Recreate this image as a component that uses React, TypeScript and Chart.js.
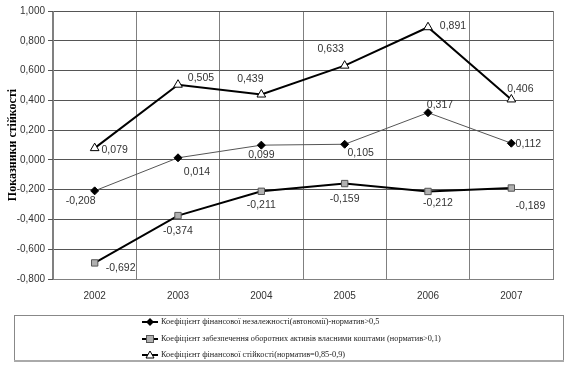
import React, { useEffect, useRef } from "react";
import { Chart, registerables } from "chart.js";

Chart.register(...registerables);

const years = ["2002", "2003", "2004", "2005", "2006", "2007"];
const autonomy = [-0.208, 0.014, 0.099, 0.105, 0.317, 0.112];
const currentAssets = [-0.692, -0.374, -0.211, -0.159, -0.212, -0.189];
const stability = [0.079, 0.505, 0.439, 0.633, 0.891, 0.406];
const seriesNames = [
  "Коефіцієнт фінансової незалежності(автономії)-норматив>0,5",
  "Коефіцієнт забезпечення оборотних активів власними коштами (норматив>0,1)",
  "Коефіцієнт фінансової стійкості(норматив=0,85-0,9)",
];
const yTitle = "Показники стійкості";

// label offsets [dx, dy] relative to each point (layout only)
const labelOffsets = [
  [[-14, 10], [19, 14], [0, 10], [16, 9], [12, -8], [17, 1]],
  [[26, 5], [0, 16], [0, 14], [0, 16], [10, 12], [19, 18]],
  [[20, 2], [23, -7], [-11, -15], [-14, -17], [25, -1], [9, -10]],
];

const fmt = (v: number) => (Math.abs(v) < 1e-9 ? 0 : v).toFixed(3).replace(".", ",");

const TICK_FONT = "'Liberation Sans Narrow', 'Arial Narrow', 'Liberation Sans', sans-serif";

export default function App() {
  const ref = useRef<HTMLCanvasElement | null>(null);
  useEffect(() => {
    document.body.style.margin = "0";
    const canvas = ref.current!;
    const labelsPlugin = {
      id: "valueLabels",
      afterDatasetsDraw(chart: any) {
        const ctx = chart.ctx;
        ctx.save();
        ctx.font = `10.5px ${TICK_FONT}`;
        ctx.fillStyle = "#333";
        ctx.textAlign = "center";
        ctx.textBaseline = "middle";
        chart.data.datasets.forEach((ds: any, i: number) => {
          const meta = chart.getDatasetMeta(i);
          meta.data.forEach((pt: any, j: number) => {
            const off = labelOffsets[i][j];
            ctx.fillText(fmt(ds.data[j]), pt.x + off[0], pt.y + off[1]);
          });
        });
        ctx.restore();
      },
    };
    const extrasPlugin = {
      id: "extras",
      afterDraw(chart: any) {
        const ctx = chart.ctx;
        const area = chart.chartArea;
        ctx.save();
        // y title
        ctx.translate(13, (area.top + area.bottom) / 2);
        ctx.rotate(-Math.PI / 2);
        ctx.font = "bold 12px 'Liberation Serif', 'Times New Roman', serif";
        ctx.fillStyle = "#000";
        ctx.textAlign = "center";
        ctx.textBaseline = "middle";
        ctx.fillText(yTitle, 0, 0);
        ctx.restore();

        // legend box
        ctx.save();
        ctx.strokeStyle = "#888";
        ctx.lineWidth = 1;
        ctx.strokeRect(14.5, 315.5, 549, 45);
        ctx.strokeStyle = "#aaa";
        ctx.lineWidth = 2;
        ctx.beginPath();
        ctx.moveTo(14, 361);
        ctx.lineTo(564, 361);
        ctx.stroke();
        const rows = [322, 339, 355];
        chart.data.datasets.forEach((ds: any, i: number) => {
          const y = rows[i];
          ctx.strokeStyle = "#000";
          ctx.lineWidth = 2;
          ctx.beginPath();
          ctx.moveTo(142, y);
          ctx.lineTo(158, y);
          ctx.stroke();
          const cx = 150;
          ctx.lineWidth = 1;
          if (i === 0) {
            ctx.fillStyle = "#000";
            ctx.beginPath();
            ctx.moveTo(cx, y - 4);
            ctx.lineTo(cx + 4, y);
            ctx.lineTo(cx, y + 4);
            ctx.lineTo(cx - 4, y);
            ctx.closePath();
            ctx.fill();
          } else if (i === 1) {
            ctx.fillStyle = "#b0b0b0";
            ctx.strokeStyle = "#555";
            ctx.fillRect(cx - 3.5, y - 3.5, 7, 7);
            ctx.strokeRect(cx - 3.5, y - 3.5, 7, 7);
          } else {
            ctx.fillStyle = "#fff";
            ctx.strokeStyle = "#000";
            ctx.beginPath();
            ctx.moveTo(cx, y - 4);
            ctx.lineTo(cx + 4, y + 3);
            ctx.lineTo(cx - 4, y + 3);
            ctx.closePath();
            ctx.fill();
            ctx.stroke();
          }
          ctx.save();
          ctx.translate(161, y);
          ctx.scale(0.92, 1);
          ctx.fillStyle = "#222";
          ctx.font = "9px 'Liberation Serif', 'Times New Roman', serif";
          ctx.textAlign = "left";
          ctx.textBaseline = "middle";
          ctx.fillText(seriesNames[i], 0, 0);
          ctx.restore();
        });
        ctx.restore();
      },
    };

    const chart = new Chart(canvas, {
      type: "line",
      data: {
        labels: years,
        datasets: [
          {
            label: seriesNames[0],
            data: autonomy,
            borderColor: "#555",
            borderWidth: 1,
            pointStyle: "rectRot",
            pointRadius: 4,
            pointBackgroundColor: "#000",
            pointBorderColor: "#000",
            pointBorderWidth: 1,
          },
          {
            label: seriesNames[1],
            data: currentAssets,
            borderColor: "#000",
            borderWidth: 2,
            pointStyle: "rect",
            pointRadius: 4.5,
            pointBackgroundColor: "#b0b0b0",
            pointBorderColor: "#555",
            pointBorderWidth: 1,
          },
          {
            label: seriesNames[2],
            data: stability,
            borderColor: "#000",
            borderWidth: 2,
            pointStyle: "triangle",
            pointRadius: 5,
            pointBackgroundColor: "#fff",
            pointBorderColor: "#000",
            pointBorderWidth: 1,
          },
        ],
      },
      plugins: [labelsPlugin, extrasPlugin],
      options: {
        animation: false,
        responsive: false,
        events: [],
        layout: { padding: { left: 0, right: 13, top: 11, bottom: 57 } },
        plugins: { legend: { display: false }, tooltip: { enabled: false } },
        scales: {
          x: {
            offset: true,
            grid: { offset: true, color: "#808080", drawTicks: false, lineWidth: 1 },
            border: { color: "#808080" },
            ticks: { padding: 11, color: "#333", font: { family: TICK_FONT, size: 10 } },
            afterFit: (s: any) => { s.height = 30; },
          },
          y: {
            min: -0.8,
            max: 1.0,
            grid: { color: "#555", tickLength: 5, tickColor: "#555" },
            border: { color: "#808080" },
            ticks: {
              stepSize: 0.2,
              padding: 3,
              color: "#333",
              font: { family: TICK_FONT, size: 10 },
              callback: (v: any) => fmt(Number(v)),
            },
            afterFit: (s: any) => { s.width = 53; },
          },
        },
      },
    });
    return () => chart.destroy();
  }, []);
  return (
    <div style={{ width: 566, height: 366 }}>
      <canvas ref={ref} width={566} height={366} style={{ display: "block" }} />
    </div>
  );
}
